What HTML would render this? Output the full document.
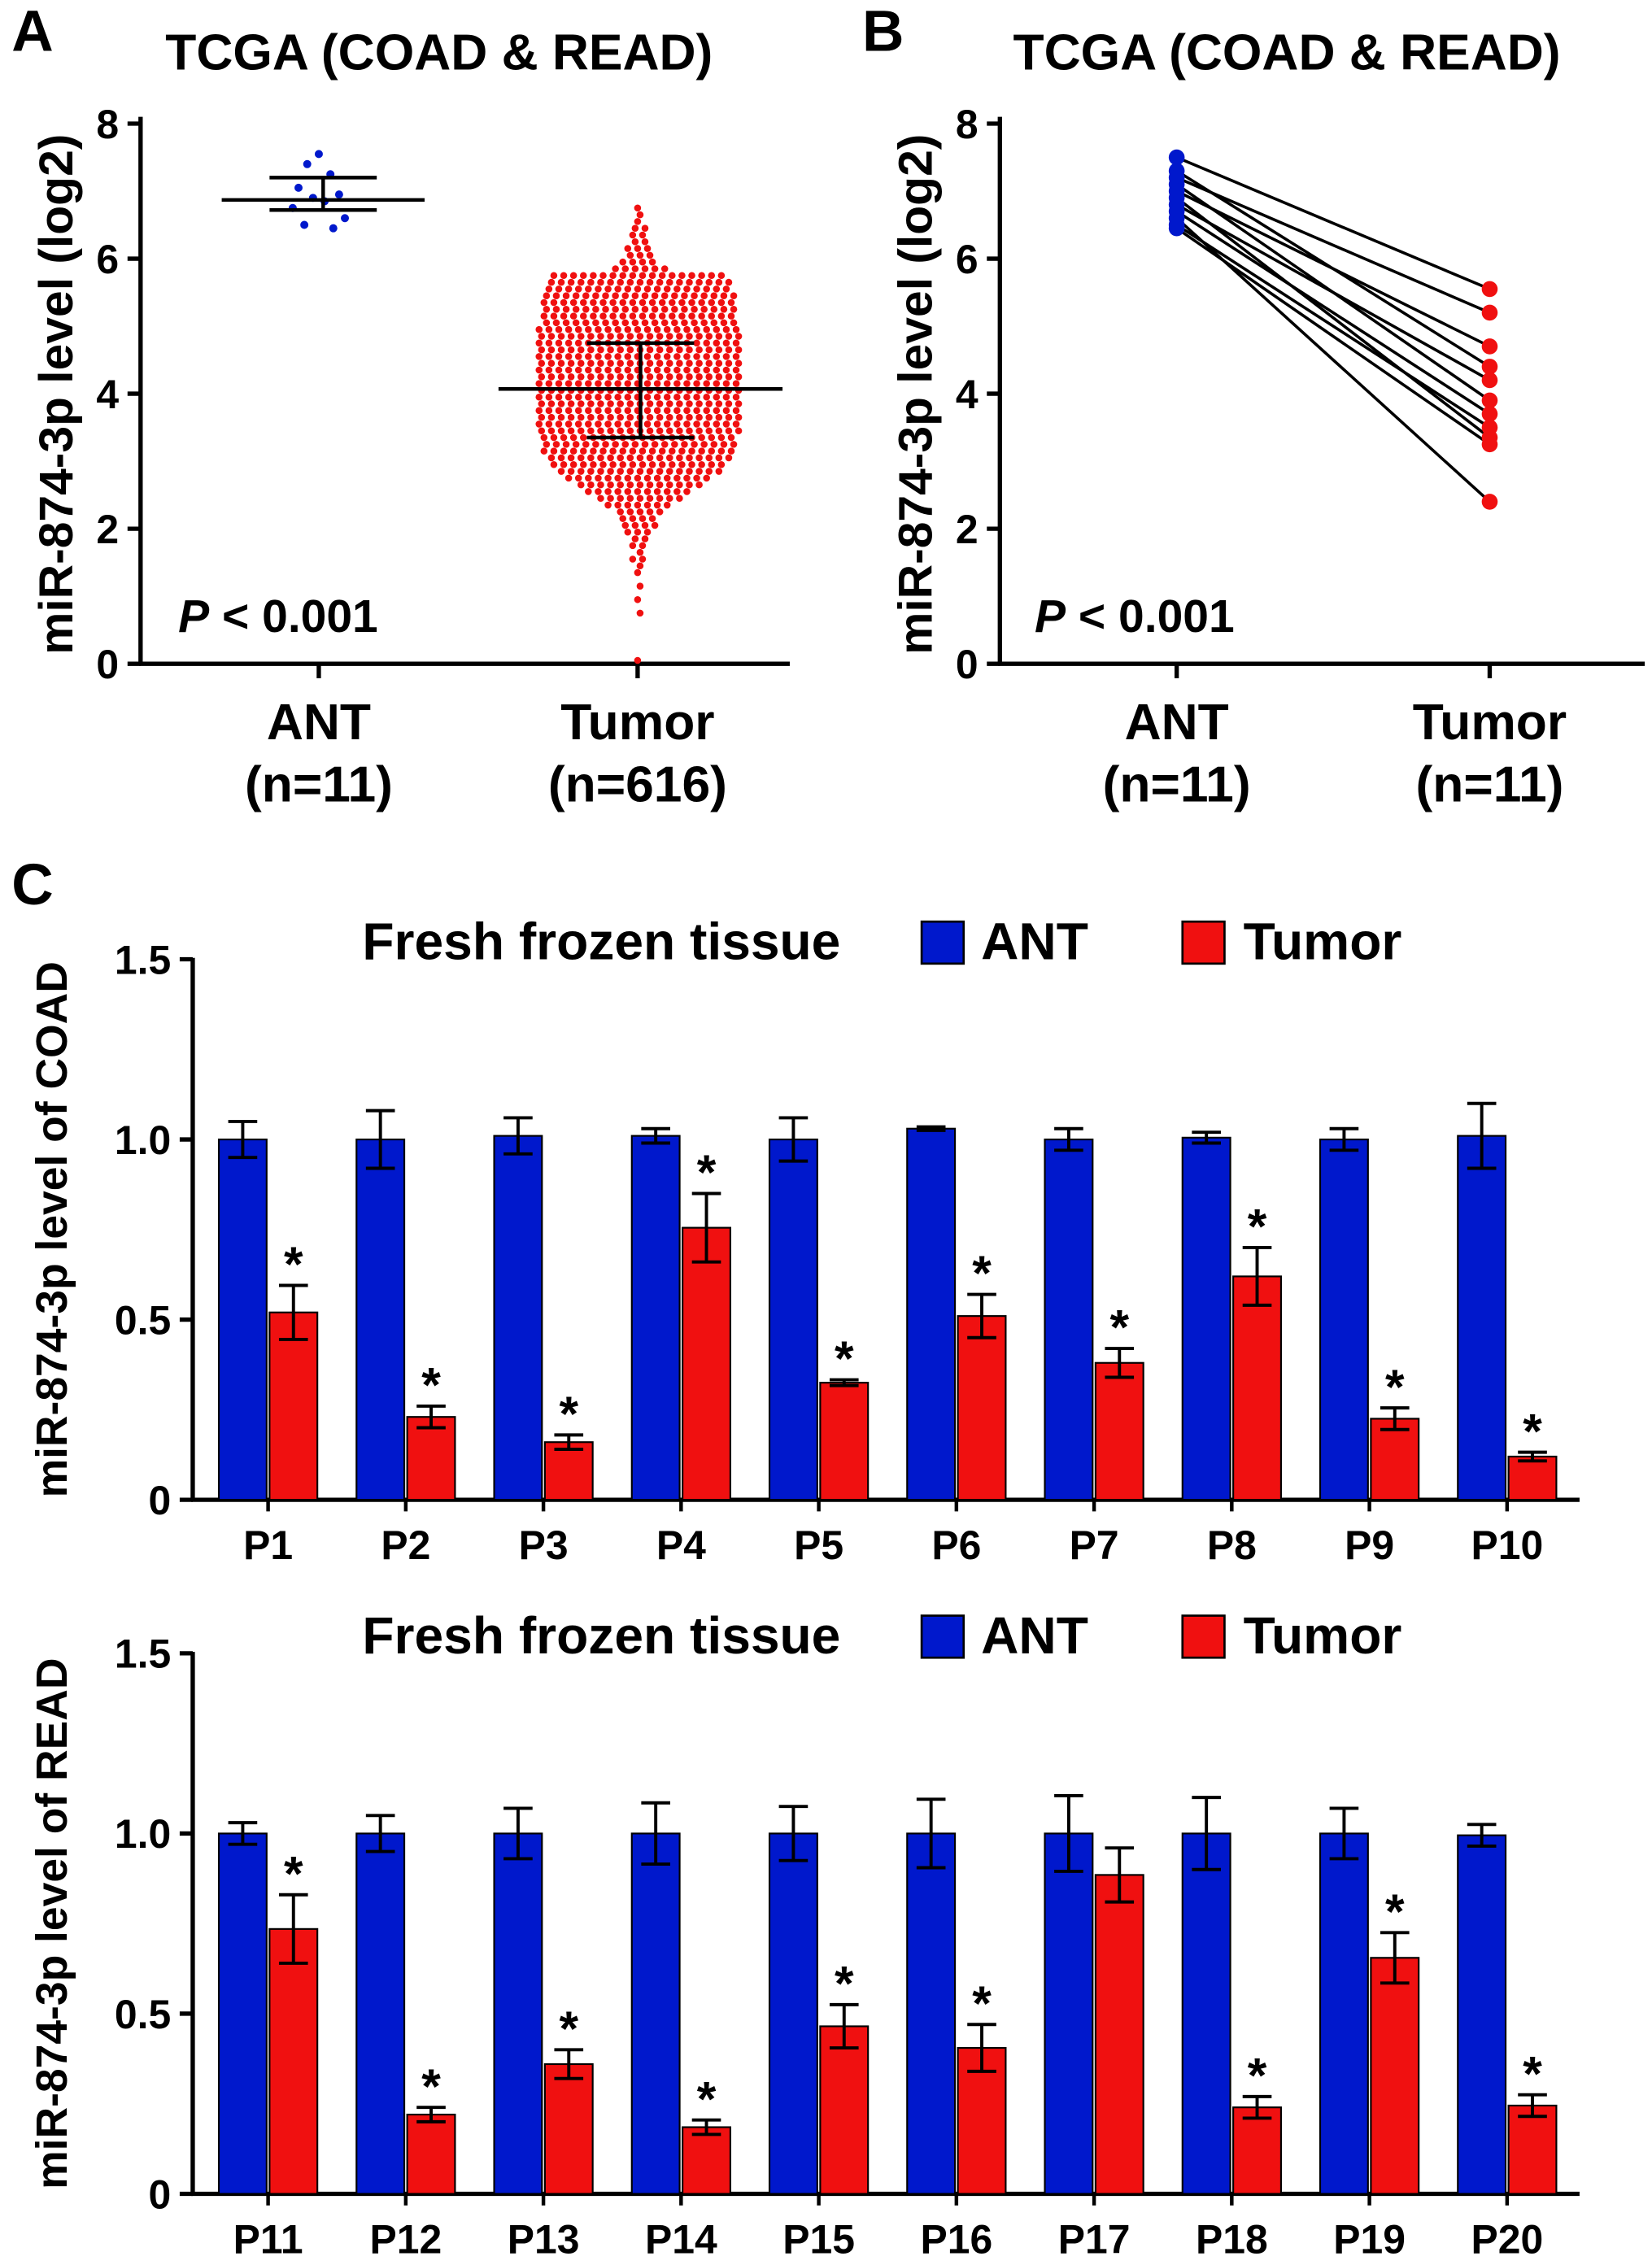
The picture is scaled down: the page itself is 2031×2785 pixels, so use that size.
<!DOCTYPE html>
<html><head><meta charset="utf-8"><style>
html,body{margin:0;padding:0;background:#fff}
svg{display:block}
text{font-family:"Liberation Sans",Arial,sans-serif;font-weight:bold;fill:#000}
</style></head><body>
<svg id="fig" width="2031" height="2785" viewBox="0 0 1140 1563" xmlns="http://www.w3.org/2000/svg"></svg>
<script>
// ---- Panel A data ----
const antDots=[7.55,7.4,7.25,7.05,6.95,6.9,6.85,6.75,6.6,6.5,6.45];
const antStats=[6.87,7.2,6.72];
const tumorStats=[4.07,4.75,3.35];
const tumorBinStart=[0.0,0.7,0.9,1.1,1.3,1.4,1.5,1.6,1.7,1.8,1.9,2.0,2.1,2.2,2.3,2.4,2.5,2.6,2.7,2.8,2.9,3.0,3.1,3.2,3.3,3.4,3.5,3.6,3.7,3.8,3.9,4.0,4.1,4.2,4.3,4.4,4.5,4.6,4.7,4.8,4.9,5.0,5.1,5.2,5.3,5.4,5.5,5.6,5.7,5.8,5.9,6.0,6.1,6.2,6.3,6.4,6.5,6.6,6.7];
const tumorBinCount=[1,1,1,1,1,1,2,1,2,2,3,4,4,5,7,9,11,13,15,17,18,19,20,20,20,21,21,21,21,21,21,21,21,21,21,21,21,21,21,21,21,20,20,20,20,20,19,19,18,6,4,3,3,2,2,2,1,1,1];
const yTicksA=[0,2,4,6,8];
// ---- Panel B data ----
const pairAnt=[7.5,7.3,7.2,7.1,7.0,6.9,6.8,6.7,6.6,6.5,6.45];
const pairTumor=[5.55,4.4,5.2,3.9,4.7,3.35,4.2,3.7,2.4,3.5,3.25];
// ---- Panel C data ----
const catTop=["P1","P2","P3","P4","P5","P6","P7","P8","P9","P10"];
const antTop=[1.0,1.0,1.01,1.01,1.0,1.03,1.0,1.005,1.0,1.01];
const antTopErr=[0.05,0.08,0.05,0.02,0.06,0.005,0.03,0.015,0.03,0.09];
const tumTop=[0.52,0.23,0.16,0.755,0.325,0.51,0.38,0.62,0.225,0.12];
const tumTopErr=[0.075,0.03,0.02,0.095,0.008,0.06,0.04,0.08,0.03,0.012];
const starTop=[1,1,1,1,1,1,1,1,1,1];
const catBot=["P11","P12","P13","P14","P15","P16","P17","P18","P19","P20"];
const antBot=[1.0,1.0,1.0,1.0,1.0,1.0,1.0,1.0,1.0,0.995];
const antBotErr=[0.03,0.05,0.07,0.085,0.075,0.095,0.105,0.1,0.07,0.03];
const tumBot=[0.735,0.22,0.36,0.185,0.465,0.405,0.885,0.24,0.655,0.245];
const tumBotErr=[0.095,0.02,0.04,0.02,0.06,0.065,0.075,0.03,0.07,0.03];
const starBot=[1,1,1,1,1,1,0,1,1,1];
const yTicksC=[0,0.5,1.0,1.5];

const S=document.getElementById('fig');const NS='http://www.w3.org/2000/svg';
function el(t,a,p){const e=document.createElementNS(NS,t);for(const k in a)e.setAttribute(k,a[k]);(p||S).appendChild(e);return e;}
function tx(x,y,s,size,anchor,p){const e=el('text',{x:x,y:y,'font-size':size,'text-anchor':anchor||'middle'},p);e.textContent=s;return e;}
function ln(x1,y1,x2,y2,w,c,p){return el('line',{x1:x1,y1:y1,x2:x2,y2:y2,stroke:c||'#000','stroke-width':w||2.5},p);}

// ===== Panel A =====
const gA=el('g',{});

const yA=v=>458-v*46.6;
tx(8,35,'A',40,'start',gA);
const tA=tx(303,48,'TCGA (COAD & READ)',35,'middle',gA);
ln(97,yA(8.1),97,459,3,'#000',gA);ln(96,458,545,458,3,'#000',gA);
yTicksA.forEach(v=>{ln(88,yA(v),97,yA(v),3,'#000',gA);const t=tx(82,yA(v)+10,String(v),28,'end',gA);});
[220,440].forEach(x=>ln(x,458,x,468,3,'#000',gA));
tx(220,510,'ANT',35,'middle',gA);tx(220,553,'(n=11)',35,'middle',gA);
tx(440,510,'Tumor',35,'middle',gA);tx(440,553,'(n=616)',35,'middle',gA);
const yt=tx(0,0,'miR-874-3p level (log2)',33,'middle',gA);yt.setAttribute('transform','translate(50,272) rotate(-90)');
const pA=tx(123,436,'',32,'start',gA);pA.innerHTML='<tspan font-style="italic">P</tspan> &lt; 0.001';
antDots.forEach((v,i)=>{const off=[0,-8,8,-14,14,-4,4,-18,18,-10,10][i];const c=el('circle',{cx:220+off,cy:yA(v),r:2.8,fill:'#0018cc'},gA);});
tumorBinStart.forEach((v,i)=>{const n=tumorBinCount[i];const sh=(i%2)*1.7;for(let k=0;k<n;k++){const off=(k-(n-1)/2)*6.8+sh;const c=el('circle',{cx:440+off,cy:yA(v+0.05),r:2.4,fill:'#f01010'},gA);}});
function stat(cx,st,hw,cw,g){ln(cx-hw,yA(st[0]),cx+hw,yA(st[0]),2.5,'#000',g);ln(cx,yA(st[1]),cx,yA(st[2]),2.5,'#000',g);ln(cx-cw,yA(st[1]),cx+cw,yA(st[1]),2.5,'#000',g);ln(cx-cw,yA(st[2]),cx+cw,yA(st[2]),2.5,'#000',g);}
stat(223,antStats,70,37,gA);stat(442,tumorStats,98,37,gA);

// ===== Panel B =====
const gB=el('g',{});

tx(595,35,'B',40,'start',gB);
tx(888,48,'TCGA (COAD & READ)',35,'middle',gB);
ln(690,yA(8.1),690,459,3,'#000',gB);ln(689,458,1135,458,3,'#000',gB);
yTicksA.forEach(v=>{ln(681,yA(v),690,yA(v),3,'#000',gB);tx(675,yA(v)+10,String(v),28,'end',gB);});
[812,1028].forEach(x=>ln(x,458,x,468,3,'#000',gB));
tx(812,510,'ANT',35,'middle',gB);tx(812,553,'(n=11)',35,'middle',gB);
tx(1028,510,'Tumor',35,'middle',gB);tx(1028,553,'(n=11)',35,'middle',gB);
const yt2=tx(0,0,'miR-874-3p level (log2)',33,'middle',gB);yt2.setAttribute('transform','translate(643,272) rotate(-90)');
const pB=tx(714,436,'',32,'start',gB);pB.innerHTML='<tspan font-style="italic">P</tspan> &lt; 0.001';
pairAnt.forEach((v,i)=>{ln(812,yA(v),1028,yA(pairTumor[i]),2,'#000',gB);});
pairAnt.forEach((v,i)=>{const a=el('circle',{cx:812,cy:yA(v),r:5.5,fill:'#0018cc'},gB);
const b=el('circle',{cx:1028,cy:yA(pairTumor[i]),r:5.5,fill:'#f01010'},gB);});

// ===== Panel C =====
tx(8,624,'C',40,'start');
function barChart(y0,title,cats,ant,antE,tum,tumE,stars,name){
  const g=el('g',{});
  const y=v=>y0-v*248.7;
  ln(133,y(1.5)-1,133,y0+1,3,'#000',g);ln(132,y0,1090,y0,3,'#000',g);
  yTicksC.forEach(v=>{ln(124,y(v),133,y(v),3,'#000',g);tx(118,y(v)+10,v.toFixed(1).replace(/^0\.0$/,'0'),28,'end',g);});
  const yt=tx(0,0,title,30,'middle',g);yt.setAttribute('transform',`translate(46,${y(0.75)}) rotate(-90)`);
  const ly=y(1.5)-12;
  tx(250,ly+12,'Fresh frozen tissue',36,'start',g);
  const l1=el('rect',{x:636,y:ly-14,width:29,height:29,fill:'#0018cc',stroke:'#000','stroke-width':1.5},g);
  tx(677,ly+12,'ANT',36,'start',g);
  const l2=el('rect',{x:816,y:ly-14,width:29,height:29,fill:'#f01010',stroke:'#000','stroke-width':1.5},g);
  tx(858,ly+12,'Tumor',36,'start',g);
  cats.forEach((c,i)=>{
    const cx=185+i*95;
    const b1=el('rect',{x:cx-34,y:y(ant[i]),width:33,height:y0-y(ant[i]),fill:'#0018cc',stroke:'#000','stroke-width':1.2},g);
    const b2=el('rect',{x:cx+1,y:y(tum[i]),width:33,height:y0-y(tum[i]),fill:'#f01010',stroke:'#000','stroke-width':1.2},g);
    [[cx-17.5,ant[i],antE[i]],[cx+17.5,tum[i],tumE[i]]].forEach(([x,v,e])=>{ln(x,y(v+e),x,y(v-e),2.2,'#000',g);ln(x-10,y(v+e),x+10,y(v+e),2.2,'#000',g);ln(x-10,y(v-e),x+10,y(v-e),2.2,'#000',g);});
    if(stars[i])tx(cx+17.5,y(tum[i]+tumE[i])-3,'*',34,'middle',g);
    ln(cx,y0,cx,y0+8,2.5,'#000',g);
    tx(cx,y0+41,c,28,'middle',g);
  });
}
barChart(1035,'miR-874-3p level of COAD',catTop,antTop,antTopErr,tumTop,tumTopErr,starTop,'panel-c-coad-chart');
barChart(1514,'miR-874-3p level of READ',catBot,antBot,antBotErr,tumBot,tumBotErr,starBot,'panel-c-read-chart');
</script>
</body></html>
